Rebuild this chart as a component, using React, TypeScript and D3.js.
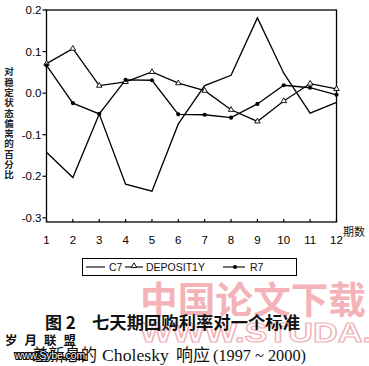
import React from "react";
import * as d3 from "d3";

const periods = [1, 2, 3, 4, 5, 6, 7, 8, 9, 10, 11, 12];
const c7 = [-0.142, -0.203, -0.05, -0.219, -0.236, -0.074, 0.018, 0.043, 0.181, 0.048, -0.048, -0.022];
const deposit1y = [0.071, 0.107, 0.018, 0.027, 0.051, 0.024, 0.006, -0.04, -0.068, -0.019, 0.023, 0.01];
const r7 = [0.067, -0.024, -0.05, 0.032, 0.031, -0.051, -0.052, -0.059, -0.026, 0.019, 0.013, -0.004];
const yTicks = [0.2, 0.1, 0.0, -0.1, -0.2, -0.3];
const yLabelChars = ["对", "稳", "定", "状", "态", "偏", "离", "的", "百", "分", "比"];
const legendNames = ["C7", "DEPOSIT1Y", "R7"];

const W = 369, H = 366;
const L = 46.5, R = 336.5, T = 10, B = 222;

export default function App() {
  const x = d3.scaleLinear().domain([1, 12]).range([L, R]);
  const y = d3.scaleLinear().domain([-0.31, 0.2]).range([B, T]);
  const line = d3.line<number>().x((_, i) => x(periods[i])).y((d) => y(d));
  const tri = d3.symbol().type(d3.symbolTriangle).size(13)() as string;
  const sans = "'Liberation Sans', Arial, sans-serif";
  const cjk = "'Noto Sans CJK SC', sans-serif";
  const serif = "'Liberation Serif', serif";
  return (
    <svg width={W} height={H} style={{ position: "absolute", left: 0, top: 0, background: "#fff" }}>
      <rect width={W} height={H} fill="#fff" />
      {/* watermarks (pink) */}
      <text x={140} y={314} fontFamily={cjk} fontWeight={700} fontSize={37} fill="#f4b3b8" textLength={226} lengthAdjust="spacingAndGlyphs">中国论文下载</text>
      <text x={140} y={342} fontFamily={sans} fontWeight={700} fontSize={27} fill="none" stroke="#f2b0b6" strokeWidth={1.2} textLength={232} lengthAdjust="spacingAndGlyphs">WWW.STUDA.</text>
      {/* plot frame */}
      <rect x={L} y={T} width={R - L} height={B - T} fill="none" stroke="#000" strokeWidth={1.3} />
      {yTicks.map((t) => (
        <g key={t}>
          <line x1={L - 4} x2={L} y1={y(t)} y2={y(t)} stroke="#000" strokeWidth={1.2} />
          <text x={L - 5} y={y(t)} dy="0.35em" textAnchor="end" fontFamily={sans} fontSize={11.5} fill="#000">
            {d3.format(".1f")(t).replace("−", "-")}
          </text>
        </g>
      ))}
      {periods.map((p) => (
        <g key={p}>
          <line x1={x(p)} x2={x(p)} y1={B} y2={B - 3} stroke="#000" strokeWidth={1.2} />
          <text x={x(p)} y={B + 18} dy="0.35em" textAnchor="middle" fontFamily={sans} fontSize={11.5} fill="#000">{p}</text>
        </g>
      ))}
      <text x={343} y={236} fontFamily={cjk} fontSize={11} fill="#111">期数</text>
      {yLabelChars.map((c, i) => (
        <text key={i} x={9} y={72 + i * 10.3} dy="0.35em" textAnchor="middle" fontFamily={cjk} fontWeight={700} fontSize={9.5} fill="#222">{c}</text>
      ))}
      {/* series */}
      <path d={line(c7) || ""} fill="none" stroke="#000" strokeWidth={1.3} />
      <path d={line(deposit1y) || ""} fill="none" stroke="#000" strokeWidth={1.3} />
      <path d={line(r7) || ""} fill="none" stroke="#000" strokeWidth={1.3} />
      {deposit1y.map((v, i) => (
        <path key={"d" + i} d={tri} transform={`translate(${x(periods[i])},${y(v)})`} fill="#fff" stroke="#000" strokeWidth={0.9} />
      ))}
      {r7.map((v, i) => (
        <circle key={"r" + i} cx={x(periods[i])} cy={y(v)} r={2.1} fill="#000" />
      ))}
      {/* legend */}
      <rect x={82.5} y={258.5} width={214} height={17} fill="none" stroke="#000" strokeWidth={1} />
      <line x1={86} x2={105} y1={267} y2={267} stroke="#000" strokeWidth={1.1} />
      <text x={109} y={267} dy="0.35em" fontFamily={sans} fontSize={10.5} fill="#111">{legendNames[0]}</text>
      <line x1={125} x2={143} y1={267} y2={267} stroke="#000" strokeWidth={1.1} />
      <path d={tri} transform="translate(134,266)" fill="#fff" stroke="#000" strokeWidth={0.9} />
      <text x={146} y={267} dy="0.35em" fontFamily={sans} fontSize={10.5} fill="#111">{legendNames[1]}</text>
      <line x1={223} x2={245} y1={267} y2={267} stroke="#000" strokeWidth={1.1} />
      <circle cx={235} cy={267} r={2.1} fill="#000" />
      <text x={250} y={267} dy="0.35em" fontFamily={sans} fontSize={10.5} fill="#111">{legendNames[2]}</text>
      {/* caption */}
      <text x={45} y={329} fontFamily={cjk} fontWeight={700} fontSize={17} fill="#111">图 2</text>
      <text x={92} y={329} fontFamily={cjk} fontWeight={700} fontSize={17} fill="#111" textLength={208} lengthAdjust="spacingAndGlyphs">七天期回购利率对一个标准</text>
      <text y={361} fontSize={17} fill="#111" fontFamily={serif}>
        <tspan x={32} fontFamily={cjk} textLength={65} lengthAdjust="spacingAndGlyphs">差新息的</tspan>
        <tspan x={102} textLength={67} lengthAdjust="spacingAndGlyphs">Cholesky</tspan>
        <tspan x={176} fontFamily={cjk}>响应</tspan>
        <tspan x={213} textLength={93} lengthAdjust="spacingAndGlyphs">(1997 ~ 2000)</tspan>
      </text>
      {/* small site watermark */}
      <text x={5} y={345} fontFamily={cjk} fontWeight={700} fontSize={12.5} fill="#111" letterSpacing={7}>岁月联盟</text>
      <text x={15} y={359} fontFamily={sans} fontSize={10.5} fill="#fff" stroke="#000" strokeWidth={2.2} paintOrder="stroke" textLength={70} lengthAdjust="spacingAndGlyphs">www.Sybe.com</text>
    </svg>
  );
}
